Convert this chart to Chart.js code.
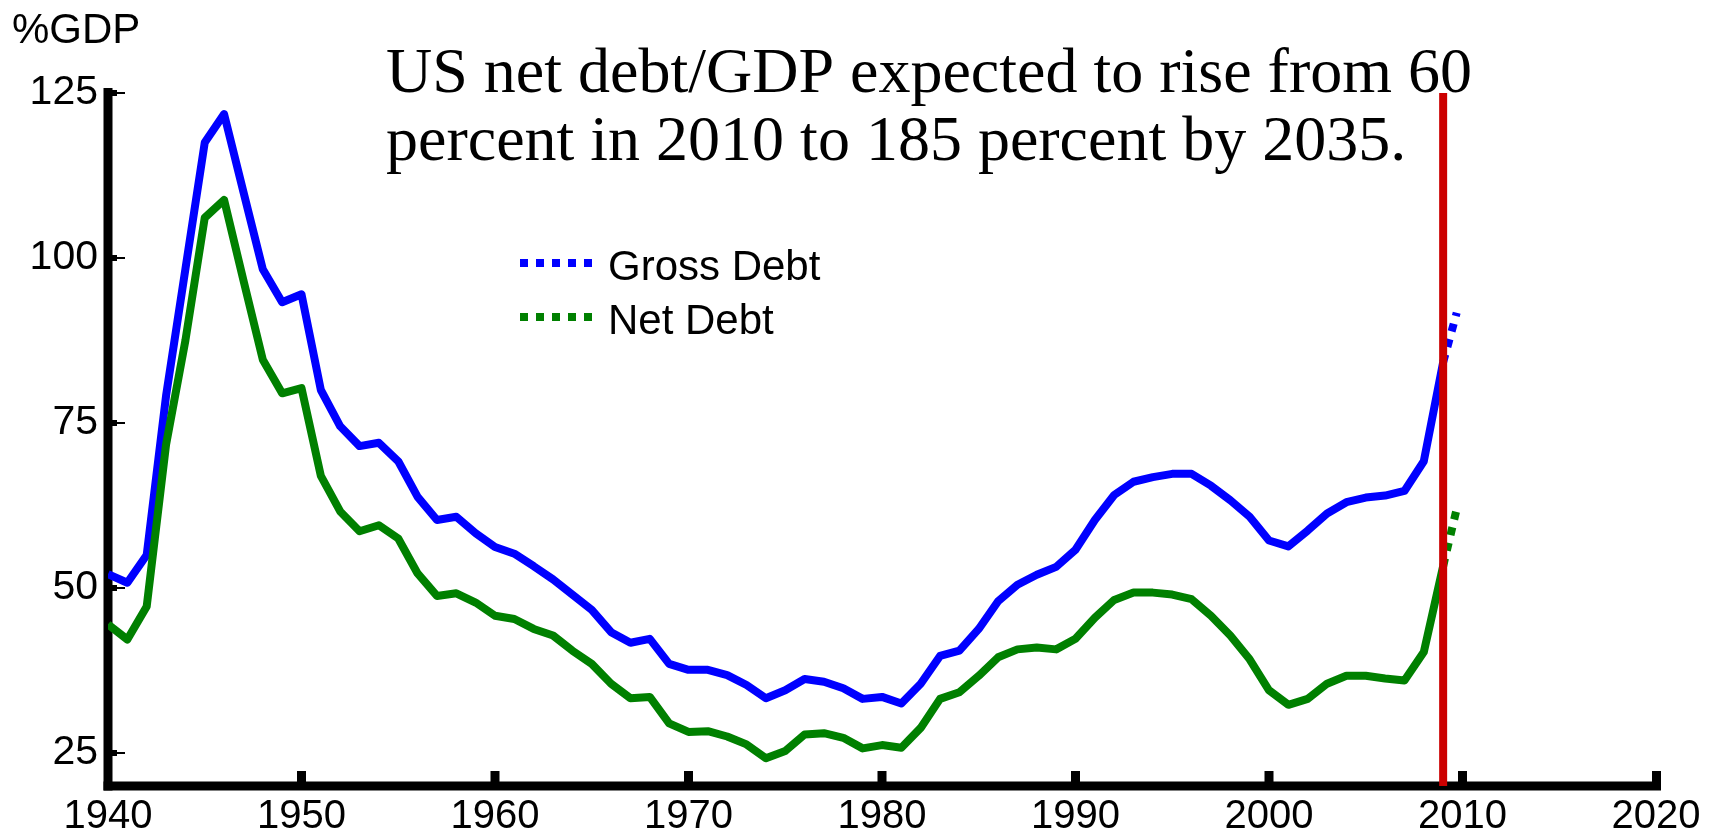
<!DOCTYPE html>
<html>
<head>
<meta charset="utf-8">
<title>US debt / GDP</title>
<script src="https://cdn.jsdelivr.net/npm/chart.js@4.4.1/dist/chart.umd.min.js"></script>
<style>
  html, body { margin: 0; padding: 0; background: #fff; }
  canvas { display: block; }
</style>
</head>
<body>
<canvas id="debtChart" width="1721" height="837"></canvas>
<script>
const years = [
  1940, 1941, 1942, 1943, 1944, 1945, 1946, 1947, 1948, 1949,
  1950, 1951, 1952, 1953, 1954, 1955, 1956, 1957, 1958, 1959,
  1960, 1961, 1962, 1963, 1964, 1965, 1966, 1967, 1968, 1969,
  1970, 1971, 1972, 1973, 1974, 1975, 1976, 1977, 1978, 1979,
  1980, 1981, 1982, 1983, 1984, 1985, 1986, 1987, 1988, 1989,
  1990, 1991, 1992, 1993, 1994, 1995, 1996, 1997, 1998, 1999,
  2000, 2001, 2002, 2003, 2004, 2005, 2006, 2007, 2008, 2009
];

const grossDebt = [
  52.1, 50.8, 55.0, 79.1, 98.3, 117.5, 121.8, 110.0, 98.3, 93.3,
  94.5, 80.0, 74.5, 71.5, 72.0, 69.2, 63.8, 60.3, 60.8, 58.3,
  56.2, 55.2, 53.3, 51.3, 49.0, 46.7, 43.3, 41.7, 42.3, 38.5,
  37.6, 37.6, 36.8, 35.3, 33.3, 34.5, 36.2, 35.8, 34.8, 33.2,
  33.5, 32.5, 35.5, 39.7, 40.5, 43.8, 48.0, 50.5, 52.0, 53.2,
  55.8, 60.3, 64.1, 66.1, 66.8, 67.3, 67.3, 65.5, 63.3, 60.8,
  57.2, 56.3, 58.7, 61.3, 63.0, 63.7, 64.0, 64.7, 69.2, 84.2
];

const netDebt = [
  44.5, 42.2, 47.2, 71.7, 87.5, 106.1, 108.8, 96.6, 84.6, 79.5,
  80.3, 67.0, 61.6, 58.6, 59.5, 57.5, 52.2, 48.8, 49.2, 47.8,
  45.8, 45.3, 43.8, 42.8, 40.5, 38.5, 35.5, 33.3, 33.5, 29.5,
  28.2, 28.3, 27.5, 26.3, 24.2, 25.3, 27.8, 28.0, 27.3, 25.7,
  26.2, 25.8, 28.8, 33.2, 34.2, 36.7, 39.5, 40.7, 41.0, 40.7,
  42.3, 45.5, 48.2, 49.3, 49.3, 49.0, 48.3, 45.8, 42.8, 39.2,
  34.5, 32.3, 33.2, 35.5, 36.7, 36.7, 36.3, 36.0, 40.3, 53.3
];

// projected stretch, drawn dotted
const projYears = [2009, 2009.7];
const grossProj = [84.2, 91.7];
const netProj = [53.3, 62.0];

const markerYear = 2009;
const xTicks = [1940, 1950, 1960, 1970, 1980, 1990, 2000, 2010, 2020];
const yTicks = [25, 50, 75, 100, 125];
const yRange = [20, 125];

const titleLines = [
  'US net debt/GDP expected to rise from 60',
  'percent in 2010 to 185 percent by 2035.'
];

const SANS = '"Liberation Sans", Arial, sans-serif';
const SERIF = '"Liberation Serif", "Times New Roman", serif';
const BLUE = '#0000ff';
const GREEN = '#008000';
const RED = '#cc0000';

function toPoints(xs, ys) {
  return xs.map((x, i) => ({ x: x, y: ys[i] }));
}

// axes, tick marks, title and legend
const decorations = {
  id: 'decorations',
  beforeDatasetsDraw(chart) {
    const { ctx, chartArea: a, scales } = chart;
    const w = 9;
    ctx.save();
    ctx.fillStyle = '#000';
    // y axis and x axis
    ctx.fillRect(a.left - w / 2, a.top - 5, w, a.bottom - a.top + 5 + w / 2);
    ctx.fillRect(a.left - w / 2, a.bottom - w / 2, a.right - a.left + w / 2 + 5, w);
    // y ticks point inward
    yTicks.forEach(v => {
      const y = scales.y.getPixelForValue(v);
      ctx.fillRect(a.left, y - 3, 9, 6);
      ctx.fillRect(a.left, y - 1, 17, 2);
    });
    // x ticks point upward
    xTicks.forEach(v => {
      if (v === xTicks[0]) return;
      const x = scales.x.getPixelForValue(v);
      const xx = v === xTicks[xTicks.length - 1] ? x + 0.5 : x;
      ctx.fillRect(xx - w / 2, a.bottom - 15, w, 15);
    });
    ctx.restore();
  },
  afterDraw(chart) {
    const ctx = chart.ctx;
    ctx.save();
    ctx.fillStyle = '#000';
    ctx.textBaseline = 'alphabetic';
    ctx.textAlign = 'left';

    ctx.font = '42px ' + SANS;
    ctx.fillText('%GDP', 12, 43);

    ctx.font = '64px ' + SERIF;
    ctx.fillText(titleLines[0], 386, 92);
    ctx.fillText(titleLines[1], 386, 160);

    // legend
    const items = [
      { label: 'Gross Debt', color: BLUE, y: 263 },
      { label: 'Net Debt', color: GREEN, y: 317 }
    ];
    items.forEach(it => {
      ctx.fillStyle = it.color;
      for (let k = 0; k < 5; k++) {
        ctx.fillRect(520 + k * 16, it.y - 4, 8, 8);
      }
      ctx.fillStyle = '#000';
      ctx.font = '42px ' + SANS;
      ctx.fillText(it.label, 608, it.y + 17);
    });
    ctx.restore();
  }
};

const ctx = document.getElementById('debtChart').getContext('2d');

new Chart(ctx, {
  type: 'line',
  data: {
    datasets: [
      {
        label: 'marker',
        data: [{ x: markerYear, y: yRange[0] }, { x: markerYear, y: yRange[1] }],
        borderColor: RED,
        borderWidth: 8,
        order: 0
      },
      {
        label: 'Gross Debt',
        data: toPoints(years, grossDebt),
        borderColor: BLUE,
        borderWidth: 8,
        order: 2
      },
      {
        label: 'Net Debt',
        data: toPoints(years, netDebt),
        borderColor: GREEN,
        borderWidth: 8,
        order: 1
      },
      {
        label: 'Gross Debt projected',
        data: toPoints(projYears, grossProj),
        borderColor: BLUE,
        borderWidth: 8,
        borderDash: [8, 8],
        order: 3
      },
      {
        label: 'Net Debt projected',
        data: toPoints(projYears, netProj),
        borderColor: GREEN,
        borderWidth: 8,
        borderDash: [8, 8],
        order: 3
      }
    ]
  },
  options: {
    responsive: false,
    animation: false,
    devicePixelRatio: 1,
    layout: { padding: { top: 93, right: 65, bottom: 0, left: 0 } },
    elements: {
      point: { radius: 0 },
      line: { tension: 0, borderCapStyle: 'butt', borderJoinStyle: 'round', fill: false }
    },
    plugins: {
      legend: { display: false },
      tooltip: { enabled: false },
      title: { display: false }
    },
    scales: {
      x: {
        type: 'linear',
        min: 1940,
        max: 2020,
        grid: { display: false, drawTicks: false },
        border: { display: false },
        ticks: {
          color: '#000',
          font: { family: SANS, size: 40 },
          padding: 7,
          maxRotation: 0,
          autoSkip: false,
          callback: v => String(v)
        },
        afterBuildTicks: scale => { scale.ticks = xTicks.map(v => ({ value: v })); },
        afterFit: scale => { scale.height = 51; }
      },
      y: {
        type: 'linear',
        min: yRange[0],
        max: yRange[1],
        grid: { display: false, drawTicks: false },
        border: { display: false },
        ticks: {
          color: '#000',
          font: { family: SANS, size: 41 },
          padding: 10
        },
        afterBuildTicks: scale => { scale.ticks = yTicks.map(v => ({ value: v })); },
        afterFit: scale => { scale.width = 108; }
      }
    }
  },
  plugins: [decorations]
});
</script>
</body>
</html>
